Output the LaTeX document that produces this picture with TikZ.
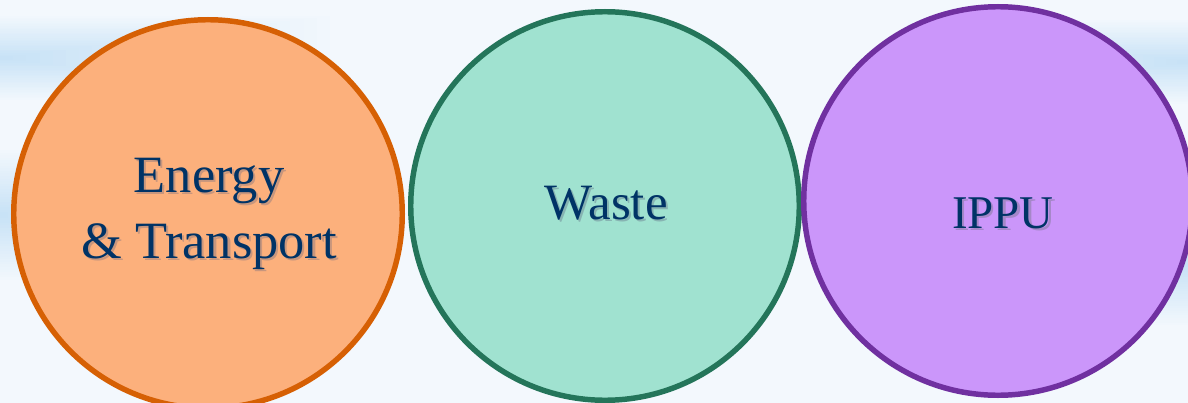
\documentclass[tikz,border=0pt]{standalone}
\usepackage{fontspec}
\setmainfont{Liberation Serif}
\definecolor{bgc}{RGB}{243,248,253}
\definecolor{streak}{RGB}{200,226,246}
\definecolor{navy}{RGB}{0,51,102}
\definecolor{ofill}{RGB}{252,176,124}
\definecolor{oline}{RGB}{214,96,4}
\definecolor{gfill}{RGB}{160,226,208}
\definecolor{gline}{RGB}{36,117,90}
\definecolor{pfill}{RGB}{203,150,250}
\definecolor{pline}{RGB}{112,48,160}
\definecolor{oshad}{RGB}{200,150,125}
\definecolor{gshad}{RGB}{135,180,178}
\definecolor{pshad}{RGB}{165,135,200}
\newcommand{\shtxt}[2]{\makebox[0pt][l]{\kern1.6pt\raisebox{-1.6pt}{\textcolor{#1}{#2}}}#2}
% soft streak: #1 = x of anchored edge, #2 = direction (+1 or -1), #3 = centre y, #4 = half height, #5 = length
\newcommand{\softstreak}[5]{%
  \foreach \k in {0,...,24}{%
    \pgfmathsetmacro{\pc}{4*(\k+1)}%
    \pgfmathsetmacro{\fr}{1-\k/25}%
    \fill[streak!\pc!bgc] (#1,#3-#4*\fr) rectangle (#1+#2*#5*\fr,#3+#4*\fr);}}
\tikzset{
  sector/.style={circle, line width=4.1pt, minimum size=291.4pt, inner sep=0pt},
  lbl/.style={text=navy, align=center, inner sep=0pt},
}
\begin{document}
\begin{tikzpicture}[x=0.75pt,y=0.75pt]
\useasboundingbox (0,0) rectangle (1188,-403);
\fill[bgc] (0,0) rectangle (1188,-403);
% background streaks
\softstreak{0}{1}{-58}{42}{330}
\softstreak{0}{1}{-215}{65}{200}
\softstreak{1188}{-1}{-62}{42}{280}
\softstreak{1188}{-1}{-265}{60}{180}
% circles
\node[sector, draw=oline, fill=ofill] (energy) at (208,-214) {};
\node[sector, draw=gline, fill=gfill] (waste) at (605,-206) {};
\node[sector, draw=pline, fill=pfill] (ippu) at (998,-201) {};
% labels
\node[lbl, font=\fontsize{39.3}{49.5}\selectfont, anchor=base] (energyt) at (209,-258) {\shtxt{oshad}{Energy}\\\shtxt{oshad}{\& Transport}};
\node[lbl, font=\fontsize{38.2}{45}\selectfont, anchor=base] (wastet) at (606,-219) {\shtxt{gshad}{Waste}};
\node[lbl, font=\fontsize{35.2}{42}\selectfont, anchor=base] (ippul) at (1003,-228) {\shtxt{pshad}{IPPU}};
\end{tikzpicture}
\end{document}
